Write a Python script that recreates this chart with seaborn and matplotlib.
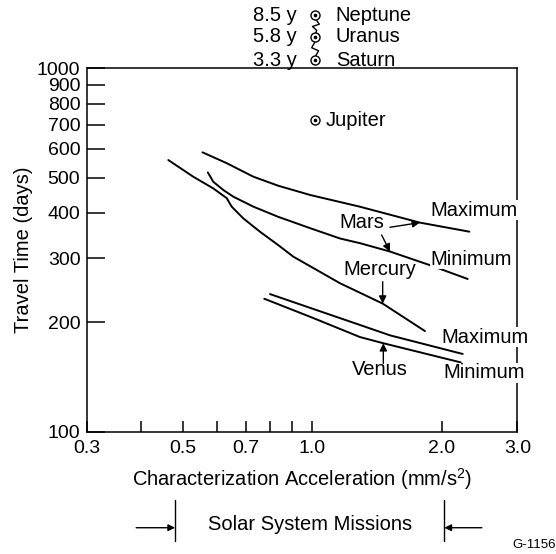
import matplotlib
matplotlib.use("Agg")
import matplotlib.pyplot as plt
import numpy as np
import pandas as pd
import seaborn as sns
from matplotlib.path import Path

# ---------------- data ----------------
mars_max_x = [0.556, 0.633, 0.730, 0.834, 0.989, 1.29, 1.78, 2.32]
mars_max_y = [587, 548, 503, 475, 448, 416, 376, 355]
mars_min_x = [0.572, 0.589, 0.622, 0.656, 0.730, 0.834, 0.989, 1.161, 1.292, 1.517, 1.880, 2.300]
mars_min_y = [517, 487, 462, 443, 416, 390, 363, 340, 330, 313, 287, 263]
mercury_x = [0.463, 0.529, 0.589, 0.633, 0.650, 0.692, 0.756, 0.834, 0.904, 1.161, 1.459, 1.830]
mercury_y = [559, 503, 467, 439, 416, 386, 355, 326, 303, 256, 225, 189]
venus_max_x = [0.798, 0.989, 1.292, 1.517, 2.239]
venus_max_y = [239, 219, 196.5, 184, 163.5]
venus_min_x = [0.774, 0.989, 1.292, 1.464, 2.216]
venus_min_y = [232, 207, 182, 175, 155]

jupiter_x = [1.015]
jupiter_y = [720]
outer_names = ["Neptune", "Uranus", "Saturn"]
outer_years = ["8.5 y", "5.8 y", "3.3 y"]
outer_x = [1.015, 1.015, 1.015]
outer_y = [1402, 1222, 1054]

xticks = [0.3, 0.4, 0.5, 0.6, 0.7, 0.8, 0.9, 1.0, 2.0, 3.0]
xticklabels = ["0.3", "", "0.5", "", "0.7", "", "", "1.0", "2.0", "3.0"]
yticks = [100, 200, 300, 400, 500, 600, 700, 800, 900, 1000]
yticklabels = ["100", "200", "300", "400", "500", "600", "700", "800", "900", "1000"]
mission_range = [0.48, 2.03]

curves = {
    "Mars maximum": (mars_max_x, mars_max_y),
    "Mars minimum": (mars_min_x, mars_min_y),
    "Mercury": (mercury_x, mercury_y),
    "Venus maximum": (venus_max_x, venus_max_y),
    "Venus minimum": (venus_min_x, venus_min_y),
}
df = pd.concat(
    [pd.DataFrame({"accel": xs, "days": ys, "curve": name}) for name, (xs, ys) in curves.items()],
    ignore_index=True,
)

# ---------------- style ----------------
sns.set_style("ticks")
plt.rcParams["font.family"] = ["Liberation Sans", "DejaVu Sans"]
plt.rcParams["mathtext.fontset"] = "custom"
plt.rcParams["mathtext.rm"] = "Liberation Sans"
plt.rcParams["axes.edgecolor"] = "black"
plt.rcParams["text.color"] = "black"
plt.rcParams["axes.labelcolor"] = "black"
plt.rcParams["xtick.color"] = "black"
plt.rcParams["ytick.color"] = "black"
FS = 14.5
TFS = 14

fig = plt.figure(figsize=(5.56, 5.54), dpi=100)
ax = fig.add_axes([0.1570, 0.2211, 0.7734, 0.6556])
ax.set_xscale("log")
ax.set_yscale("log")

sns.lineplot(data=df, x="accel", y="days", units="curve", estimator=None, sort=False,
             color="black", lw=1.4, ax=ax, legend=False)

ax.set_xlim(0.3, 3.0)
ax.set_ylim(100, 1000)
ax.set_xticks(xticks)
ax.set_xticklabels(xticklabels)
ax.set_yticks(yticks)
ax.set_yticklabels(yticklabels)
ax.minorticks_off()
ax.tick_params(axis="y", direction="in", length=13, width=1.1, pad=5, labelsize=TFS, colors="black")
ax.tick_params(axis="x", direction="in", length=8, width=1.1, pad=6, labelsize=TFS, colors="black")
for s in ax.spines.values():
    s.set_linewidth(1.1)
    s.set_color("black")

ax.set_xlabel("Characterization Acceleration (mm/s$^{\\mathregular{2}}$)", fontsize=FS, labelpad=7)
ax.set_ylabel("Travel Time (days)", fontsize=FS, labelpad=3)

# ---------------- planet symbols ----------------
def sun_marker(xs, ys):
    ax.plot(xs, ys, ls="none", marker="o", ms=6.5, mfc="white", mec="black", mew=1.0, clip_on=False, zorder=5)
    ax.plot(xs, ys, ls="none", marker="o", ms=1.6, mfc="black", mec="black", clip_on=False, zorder=6)

sun_marker(jupiter_x, jupiter_y)
ax.annotate("Jupiter", xy=(jupiter_x[0], jupiter_y[0]), xytext=(8, 0), textcoords="offset points",
            ha="left", va="center", fontsize=FS)

sun_marker(outer_x, outer_y)
for name, yrs, xv, yv in zip(outer_names, outer_years, outer_x, outer_y):
    ax.annotate(name, xy=(xv, yv), xytext=(15, 0), textcoords="offset points",
                ha="left", va="center", fontsize=FS, annotation_clip=False)
    ax.annotate(yrs, xy=(xv, yv), xytext=(-13, 0), textcoords="offset points",
                ha="right", va="center", fontsize=FS, annotation_clip=False)

# squiggles (axis break) between the outer planets
zig_r = Path([(0, 1), (0.5, 0.3), (-0.4, 0.0), (0.15, -0.5), (0, -1)])
zig_l = Path([(0, 1), (-0.5, 0.1), (0.4, -0.3), (0, -1)])
mid_y = [np.sqrt(outer_y[0] * outer_y[1]), np.sqrt(outer_y[1] * outer_y[2])]
ax.plot([outer_x[0]], [mid_y[0]], ls="none", marker=zig_r, ms=11, mfc="none", mec="black", mew=1.0, clip_on=False)
ax.plot([outer_x[1]], [mid_y[1]], ls="none", marker=zig_l, ms=11, mfc="none", mec="black", mew=1.0, clip_on=False)

# ---------------- curve labels ----------------
box = dict(fc="white", ec="none", pad=0.5)
ax.text(1.887, 407, "Maximum", ha="left", va="center", fontsize=FS, bbox=box, zorder=4)
ax.text(1.887, 298.5, "Minimum", ha="left", va="center", fontsize=FS, bbox=box, zorder=4)
ax.text(2.0, 182, "Maximum", ha="left", va="center", fontsize=FS, bbox=box, zorder=4)
ax.text(2.02, 145, "Minimum", ha="left", va="center", fontsize=FS, bbox=box, zorder=4)

ax.text(1.303, 377, "Mars", ha="center", va="center", fontsize=FS)
ax.text(1.438, 278.5, "Mercury", ha="center", va="center", fontsize=FS)
ax.text(1.438, 147.7, "Venus", ha="center", va="center", fontsize=FS)

arr = dict(arrowstyle="-|>", color="black", lw=1.0, mutation_scale=11, shrinkA=0, shrinkB=0)
ax.annotate("", xy=(1.781, 376), xytext=(1.517, 365), arrowprops=arr)
ax.annotate("", xy=(1.517, 313), xytext=(1.451, 347.5), arrowprops=arr)
ax.annotate("", xy=(1.459, 225), xytext=(1.459, 258.5), arrowprops=arr)
ax.annotate("", xy=(1.464, 175), xytext=(1.464, 154), arrowprops=arr)

# ---------------- solar system missions bracket ----------------
tr = ax.get_xaxis_transform()
for xv in mission_range:
    ax.plot([xv, xv], [-0.1886, -0.3007], color="black", lw=1.0, transform=tr, clip_on=False)
ax.text(np.sqrt(mission_range[0] * mission_range[1]), -0.2547, "Solar System Missions",
        transform=tr, ha="center", va="center", fontsize=FS)
arr2 = dict(arrowstyle="-|>", color="black", lw=1.0, mutation_scale=10, shrinkA=0, shrinkB=0)
ax.annotate("", xy=(mission_range[0], -0.2649), xycoords=tr, xytext=(-28, 0),
            textcoords="offset points", arrowprops=arr2, annotation_clip=False)
ax.annotate("", xy=(mission_range[1], -0.2649), xycoords=tr, xytext=(27, 0),
            textcoords="offset points", arrowprops=arr2, annotation_clip=False)

fig.text(1.0, 0.0162, "G-1156", ha="right", va="center", fontsize=9.5)

fig.savefig("out.png", dpi=100)
